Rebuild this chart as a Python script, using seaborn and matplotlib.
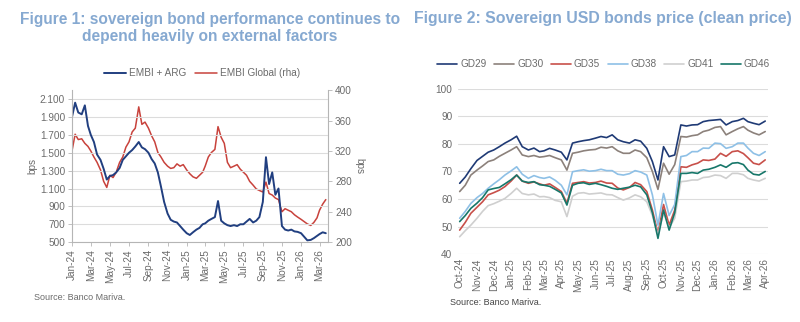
import numpy as np
import pandas as pd
import matplotlib
matplotlib.use("Agg")
import matplotlib.pyplot as plt
import matplotlib.dates as mdates
import matplotlib.ticker as mticker
import seaborn as sns

# ---------------- data: Figure 1 ----------------
months_f1 = pd.date_range("2024-01-01", "2026-03-01", freq="MS")
days = [1, 11, 21]
dates_f1 = [m + pd.Timedelta(days=d - 1) for m in months_f1 for d in days]

embi_arg = [
    1900, 2060, 1950,  1930, 2030, 1800,  1700, 1620, 1480,  1420, 1320, 1200,
    1240, 1250, 1280,  1330, 1420, 1460,  1500, 1530, 1570,  1620, 1560, 1540,
    1500, 1430, 1380,  1280, 1120, 950,   820, 750, 730,     720, 680, 640,
    600, 580, 610,     640, 660, 700,     710, 740, 760,     780, 960, 740,
    710, 690, 680,     690, 680, 700,     700, 730, 760,     720, 740, 780,
    950, 1450, 1150,   1280, 1030, 1100,  680, 640, 630,     640, 620, 615,
    600, 560, 520,     525, 545, 570,     590, 610, 600,
]
embi_global = [
    320, 342, 335,  336, 330, 326,  320, 312, 305,  295, 280, 272,
    288, 285, 292,  305, 312, 325,  332, 345, 350,  378, 355, 358,
    350, 340, 332,  318, 312, 305,  300, 297, 298,  303, 300, 302,
    295, 290, 286,  284, 288, 292,  300, 312, 318,  322, 352, 338,
    330, 305, 298,  300, 302, 296,  292, 288, 280,  275, 270, 268,
    266, 279, 264,  262, 258, 256,  240, 244, 242,  240, 236, 233,
    230, 227, 224,  222, 226, 232,  242, 250, 256,
]
f1_left_ticks = [500, 700, 900, 1100, 1300, 1500, 1700, 1900, 2100]
f1_right_ticks = [200, 240, 280, 320, 360, 400]

# ---------------- data: Figure 2 ----------------
months_f2 = pd.date_range("2024-10-01", "2026-03-01", freq="MS")
dates_f2 = [m + pd.Timedelta(days=d - 1) for m in months_f2 for d in days] + [pd.Timestamp("2026-04-01")]

gd29 = [65.7, 68.0, 71.0,  74.0, 75.5, 77.0,  77.8, 79.0, 80.3,  81.5, 82.8, 79.0,
        77.8, 78.5, 77.2,  77.5, 78.4, 77.8,  77.0, 74.2, 80.3,  80.8, 81.2, 81.5,
        82.1, 82.7, 82.3,  83.3, 81.5, 80.8,  80.3, 81.5, 81.0,  78.4, 73.6, 66.9,
        79.0, 75.4, 76.0,  86.9, 86.5, 86.9,  87.0, 88.1, 88.5,  88.7, 88.9, 86.9,
        88.1, 88.5, 89.3,  88.1, 87.5, 87.0,  88.3]
gd30 = [62.7, 65.0, 68.7,  70.5, 72.0, 73.6,  74.2, 75.5, 76.6,  77.8, 79.0, 76.0,
        75.4, 75.8, 75.2,  75.4, 75.8, 75.0,  74.2, 70.5, 76.6,  77.0, 77.5, 77.8,
        78.0, 78.8, 78.5,  79.0, 77.5, 76.6,  76.6, 77.8, 77.2,  75.0, 70.0, 63.5,
        73.0, 69.0, 72.5,  82.7, 82.5, 83.0,  83.3, 84.5, 85.0,  86.0, 86.3, 83.3,
        84.5, 85.5, 86.3,  85.0, 84.0, 83.3,  84.5]
gd35 = [48.7, 51.5, 54.8,  57.0, 59.0, 61.5,  62.3, 63.2, 64.5,  66.5, 68.7, 66.5,
        65.7, 66.2, 65.5,  65.0, 65.5, 64.2,  62.7, 58.5, 65.7,  66.0, 66.3, 65.8,
        66.0, 66.5, 65.8,  65.7, 64.0, 63.3,  64.2, 66.0, 65.2,  62.7, 56.0, 47.5,
        58.0, 50.5, 56.0,  71.7, 71.5, 72.4,  73.0, 74.2, 74.0,  74.5, 76.6, 75.5,
        77.2, 77.5, 76.5,  75.0, 73.0, 72.5,  74.2]
gd38 = [53.0, 55.5, 58.4,  60.5, 62.0, 63.9,  65.5, 67.0, 68.7,  70.2, 71.7, 69.0,
        67.5, 68.5, 67.8,  67.5, 68.0, 66.8,  65.0, 61.5, 69.9,  70.3, 70.6, 70.1,
        70.3, 70.8, 70.3,  70.3, 69.0, 68.7,  69.2, 70.3, 69.8,  68.7, 61.5, 50.5,
        62.0, 54.0, 58.0,  75.4, 75.8, 77.2,  77.2, 78.5, 78.4,  80.3, 80.1, 78.4,
        79.0, 80.3, 80.3,  78.5, 76.6, 75.8,  77.2]
gd41 = [46.3, 48.5, 50.5,  53.0, 55.5, 57.6,  58.3, 59.2, 60.2,  62.0, 63.9, 62.0,
        61.5, 61.8, 60.8,  60.9, 60.5, 59.5,  59.0, 53.6, 61.0,  62.1, 62.3, 61.8,
        62.0, 62.2, 61.6,  61.5, 60.5, 59.6,  60.4, 61.5, 60.8,  59.0, 54.0, 47.0,
        55.0, 49.5, 53.0,  66.3, 66.5, 66.9,  66.9, 67.8, 68.0,  68.7, 68.5, 67.5,
        69.3, 69.3, 68.8,  67.5, 66.9, 66.5,  67.5]
gd46 = [51.8, 54.0, 56.6,  58.5, 60.5, 63.3,  63.8, 64.2, 65.5,  67.0, 68.7, 66.5,
        66.0, 66.3, 65.2,  65.0, 64.6, 63.5,  62.2, 57.8, 65.0,  65.7, 65.9, 65.3,
        65.7, 65.2, 64.6,  63.9, 63.5, 63.9,  64.3, 65.0, 64.4,  61.5, 55.0, 45.7,
        56.0, 48.7, 55.0,  69.3, 69.3, 69.6,  69.3, 70.5, 70.8,  71.5, 72.4, 71.5,
        73.0, 73.2, 72.5,  70.5, 69.0, 68.7,  70.0]
bond_names = ["GD29", "GD30", "GD35", "GD38", "GD41", "GD46"]
bond_colors = ["#1f3a75", "#8c817b", "#c8504a", "#8ec0e6", "#cfcfcf", "#17776a"]
f2_ticks = [40, 50, 60, 70, 80, 90, 100]

# ---------------- style ----------------
sns.set_theme(style="white")
plt.rcParams["font.family"] = ["Liberation Sans", "DejaVu Sans"]
TXT = "#6b6b6b"
GRID = "#dcdcdc"
TITLE = "#86a9d1"

fig = plt.figure(figsize=(8.0, 3.22), dpi=100)

# ---------- Figure 1 ----------
ax1 = fig.add_axes([0.09, 0.248, 0.32, 0.472])
ax1r = ax1.twinx()
df1 = pd.DataFrame({"date": dates_f1, "arg": embi_arg, "glob": embi_global})
sns.lineplot(data=df1, x="date", y="glob", ax=ax1r, color="#c8423c", lw=1.1, label="EMBI Global (rha)", legend=False)
sns.lineplot(data=df1, x="date", y="arg", ax=ax1, color="#213f80", lw=1.4, label="EMBI + ARG", legend=False)
ax1.set_zorder(ax1r.get_zorder() + 1)
ax1.patch.set_visible(False)

ax1.set_ylim(500, 2200)
ax1.set_yticks(f1_left_ticks)
ax1.yaxis.set_major_formatter(mticker.FuncFormatter(lambda v, p: f"{v:,.0f}".replace(",", ".")))
ax1r.set_ylim(200, 400)
ax1r.set_yticks(f1_right_ticks)
ax1.set_xlim(pd.Timestamp("2024-01-01"), pd.Timestamp("2026-03-28"))
ax1.xaxis.set_major_locator(mdates.MonthLocator(bymonth=[1, 3, 5, 7, 9, 11]))
ax1.xaxis.set_major_formatter(mdates.DateFormatter("%b-%y"))
ax1.grid(axis="y", color=GRID, lw=0.8)
ax1.grid(axis="x", visible=False)
ax1r.grid(False)
for a in (ax1, ax1r):
    for s in a.spines.values():
        s.set_visible(False)
ax1.spines["left"].set_visible(True)
ax1.spines["bottom"].set_visible(True)
ax1r.spines["right"].set_visible(True)
for s in (ax1.spines["left"], ax1.spines["bottom"], ax1r.spines["right"]):
    s.set_color("#b5b5b5")
    s.set_linewidth(0.8)
ax1.tick_params(axis="both", colors=TXT, labelsize=7.2, length=3, width=0.6, color="#b5b5b5", left=True, bottom=True, pad=2)
ax1.tick_params(axis="x", rotation=90)
ax1r.tick_params(axis="y", colors=TXT, labelsize=7.2, length=3, width=0.6, color="#b5b5b5", right=True, pad=2)
ax1.set_xlabel("")
ax1.set_ylabel("bps", color=TXT, fontsize=7.2, labelpad=2)
ax1r.set_ylabel("bps", color=TXT, fontsize=7.2, rotation=270, labelpad=9)
h1, l1 = ax1.get_legend_handles_labels()
h2, l2 = ax1r.get_legend_handles_labels()
fig.legend(h1 + h2, l1 + l2, loc="center", bbox_to_anchor=(0.253, 0.772), ncol=2, frameon=False,
           fontsize=7.2, labelcolor=TXT, handlelength=2.2, columnspacing=0.9, handletextpad=0.3)

# ---------- Figure 2 ----------
ax2 = fig.add_axes([0.5725, 0.211, 0.3875, 0.513])
df2 = pd.DataFrame({"date": dates_f2, "GD29": gd29, "GD30": gd30, "GD35": gd35,
                    "GD38": gd38, "GD41": gd41, "GD46": gd46})
long2 = df2.melt(id_vars="date", var_name="bond", value_name="price")
sns.lineplot(data=long2, x="date", y="price", hue="bond", hue_order=bond_names,
             palette=dict(zip(bond_names, bond_colors)), ax=ax2, lw=1.2)
ax2.set_ylim(40, 100)
ax2.set_yticks(f2_ticks)
ax2.set_xlim(pd.Timestamp("2024-09-28"), pd.Timestamp("2026-04-06"))
ax2.xaxis.set_major_locator(mdates.MonthLocator())
ax2.xaxis.set_major_formatter(mdates.DateFormatter("%b-%y"))
ax2.grid(axis="y", color=GRID, lw=0.8)
ax2.grid(axis="x", visible=False)
for s in ax2.spines.values():
    s.set_visible(False)
ax2.tick_params(axis="both", colors=TXT, labelsize=7.2, length=0, pad=4)
ax2.tick_params(axis="x", rotation=90, pad=3)
ax2.set_xlabel("")
ax2.set_ylabel("")
ax2.legend(loc="center", bbox_to_anchor=(0.47, 1.15), ncol=6, frameon=False, fontsize=7.2,
           labelcolor=TXT, handlelength=2.0, columnspacing=0.75, handletextpad=0.3)

# ---------- titles & sources ----------
fig.text(0.262, 0.913, "Figure 1: sovereign bond performance continues to\ndepend heavily on external factors",
         ha="center", va="center", color=TITLE, fontsize=11.2, fontweight="bold", linespacing=1.15)
fig.text(0.753, 0.941, "Figure 2: Sovereign USD bonds price (clean price)",
         ha="center", va="center", color=TITLE, fontsize=11.4, fontweight="bold")
fig.text(0.043, 0.075, "Source: Banco Mariva.", color=TXT, fontsize=6.5, ha="left", va="center")
fig.text(0.5625, 0.062, "Source: Banco Mariva.", color="#444444", fontsize=6.5, ha="left", va="center")

fig.savefig("out.png", dpi=100)
